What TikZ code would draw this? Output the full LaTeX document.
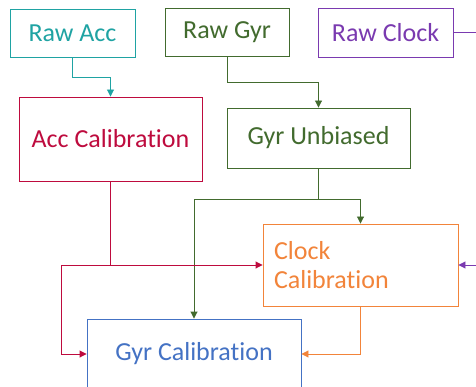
\documentclass[tikz,border=0pt]{standalone}
\usepackage{fontspec}
\setmainfont{Carlito}[Ligatures=NoCommon]
\usetikzlibrary{positioning,calc,arrows.meta}
\usepackage{xcolor}
\definecolor{accteal}{HTML}{1FA3A3}
\definecolor{gyrgreen}{HTML}{426B2E}
\definecolor{clkpurple}{HTML}{7A3AB0}
\definecolor{calred}{HTML}{BE0B3E}
\definecolor{clkorange}{HTML}{F2843A}
\definecolor{calblue}{HTML}{4472C4}

\begin{document}
\begin{tikzpicture}[
    x=1pt, y=-1pt,
    box/.style={rectangle, draw=#1, text=#1, fill=white, inner sep=0pt,
                line width=0.9pt, font=\fontsize{26}{31}\selectfont},
    arr/.style={-{Triangle[length=7pt,width=7pt]}, line width=0.9pt, draw=#1}
]
\useasboundingbox (0,0) rectangle (476,387);

% Raw inputs (top row)
\node[box=accteal, minimum width=125pt, minimum height=48pt] (rawacc) at (72.5,33) {Raw Acc};
\node[box=gyrgreen, minimum width=124pt, minimum height=48pt] (rawgyr) at (227,32) {Raw Gyr};
\node[box=clkpurple, minimum width=135pt, minimum height=49pt] (rawclk) at (385.5,32.5) {Raw Clock};

% Processing stages
\node[box=calred, minimum width=183pt, minimum height=84pt] (acccal) at (110.5,139) {Acc Calibration};
\node[box=gyrgreen, minimum width=183pt, minimum height=60pt] (gyrunb) at (318.5,138) {Gyr Unbiased};
\node[box=clkorange, minimum height=82pt, text width=173pt, inner xsep=11pt,
      align=left] (clkcal) at (360.5,265) {Clock\\[-2pt]Calibration};
\node[box=calblue, minimum width=214pt, minimum height=70pt] (gyrcal) at (194,354) {Gyr Calibration};

% Junctions
\coordinate (gyrsplit) at (318.5,199);
\coordinate (accsplit) at (110.5,265);
\coordinate (accleft) at (61,265);
\coordinate (clkturn) at (492,32.5);

\draw[arr=accteal] (rawacc.south) -- ++(0,20) -| (acccal.north);
\draw[arr=gyrgreen] (rawgyr.south) -- ++(0,26) -| (gyrunb.north);
\draw[line width=0.9pt, gyrgreen] (gyrunb.south) -- (gyrsplit);
\draw[arr=gyrgreen] (gyrsplit) -| (clkcal.north);
\draw[arr=gyrgreen] (gyrsplit) -| (gyrcal.north);
\draw[line width=0.9pt, calred] (acccal.south) -- (accsplit);
\draw[arr=calred] (accsplit) -- (clkcal.west);
\draw[arr=calred] (accsplit) -- (accleft) |- (gyrcal.west);
\draw[arr=clkorange] (clkcal.south) |- (gyrcal.east);
\draw[arr=clkpurple] (rawclk.east) -- (clkturn) |- (clkcal.east);

\end{tikzpicture}
\end{document}
